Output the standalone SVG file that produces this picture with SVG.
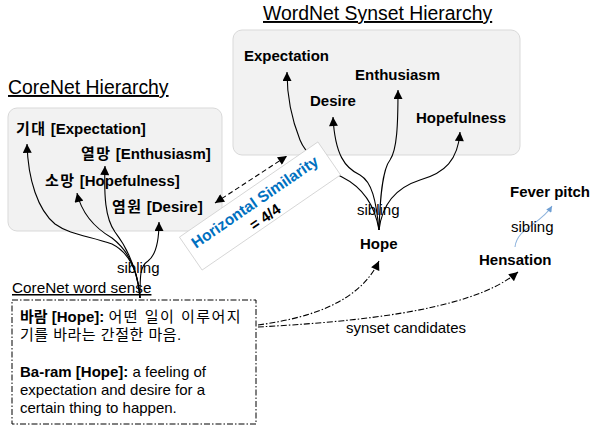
<svg xmlns="http://www.w3.org/2000/svg" width="592" height="428" viewBox="0 0 592 428">
<defs>
<style>
.t{font-family:"Liberation Sans","Noto Sans CJK KR",Arial,sans-serif;fill:#000}
.b{font-weight:bold;font-size:15px}
.r{font-size:15px}
.k{letter-spacing:1.5px}
.title{font-size:19.4px;text-decoration:underline}
.box{fill:#f2f2f2;stroke:#d9d9d9;stroke-width:1}
.c{fill:none;stroke:#000;stroke-width:1.1;marker-end:url(#ah)}
.dd{fill:none;stroke:#000;stroke-width:1.1;stroke-dasharray:6 2 1.5 2;marker-end:url(#ah)}
</style>
<marker id="ah" viewBox="0 0 10 10" refX="10" refY="5" markerUnits="userSpaceOnUse" markerWidth="10" markerHeight="9" orient="auto-start-reverse">
<path d="M0,0 L10,5 L0,10 z" fill="#000"/>
</marker>
<marker id="ahb" viewBox="0 0 10 10" refX="10" refY="5" markerUnits="userSpaceOnUse" markerWidth="7" markerHeight="6" orient="auto">
<path d="M0,0 L10,5 L0,10 z" fill="#6f9fd3"/>
</marker>
</defs>

<g id="corenet-hierarchy">
<text class="t title" x="8" y="94">CoreNet Hierarchy</text>
<rect class="box" x="8" y="108" width="214" height="123" rx="9"/>
<text class="t b" x="16" y="134"><tspan class="k">기대</tspan> [Expectation]</text>
<text class="t b" x="81" y="159"><tspan class="k">열망</tspan> [Enthusiasm]</text>
<text class="t b" x="45" y="186"><tspan class="k">소망</tspan> [Hopefulness]</text>
<text class="t b" x="112" y="212"><tspan class="k">염원</tspan> [Desire]</text>
</g>

<g id="wordnet-hierarchy">
<text class="t title" x="263" y="20">WordNet Synset Hierarchy</text>
<rect class="box" x="233" y="30" width="287" height="125" rx="9"/>
<text class="t b" x="244" y="61">Expectation</text>
<text class="t b" x="355" y="80">Enthusiasm</text>
<text class="t b" x="310" y="106">Desire</text>
<text class="t b" x="416" y="123">Hopefulness</text>
</g>

<g id="hope"><text class="t b" x="360" y="249">Hope</text></g>
<g id="hensation"><text class="t b" x="479" y="265">Hensation</text></g>
<g id="fever-pitch"><text class="t b" x="510" y="197">Fever pitch</text></g>

<g id="word-sense">
<text class="t r" x="12" y="293" style="text-decoration:underline;font-size:15.3px">CoreNet word sense</text>
<rect x="12" y="300" width="244" height="124" fill="#fff" stroke="#000" stroke-width="1" stroke-dasharray="6 2 1.5 2"/>
<text class="t r" x="20" y="322"><tspan font-weight="bold">바람 [Hope]:</tspan> <tspan style="letter-spacing:1.5px">어떤 일이 이루어지</tspan></text>
<text class="t r" x="20" y="340" style="letter-spacing:0.5px">기를 바라는 간절한 마음.</text>
<text class="t r" x="20" y="377"><tspan font-weight="bold">Ba-ram [Hope]:</tspan> a feeling of</text>
<text class="t r" x="20" y="395">expectation and desire for a</text>
<text class="t r" x="20" y="413">certain thing to happen.</text>
</g>

<g id="connectors">
<path class="c" d="M140,298 C138,270 128,252 112,244 C90,236 70,235 55,224 C38,210 28,180 27,144"/>
<path class="c" d="M140,298 C138,265 125,248 112,238 C95,228 82,215 77,193"/>
<path class="c" d="M140,298 C137,265 125,245 115,232 C105,218 104,195 105,166"/>
<path class="c" d="M140,298 C140,275 140,266 148,261 C156,255 159,240 159,222"/>
<path class="c" d="M379,230 C374,200 358,185 342,177 C320,166 306,155 300,140 C292,120 287,100 287,72"/>
<path class="c" d="M379,230 C376,200 372,182 360,175 C345,168 335,155 333,117"/>
<path class="c" d="M379,230 C380,200 382,170 390,160 C397,150 398,125 398,90"/>
<path class="c" d="M379,230 C382,205 395,188 420,180 C445,173 458,160 460,132"/>
<path d="M515,247 C517,228 540,225 552,206" fill="none" stroke="#8fb4dd" stroke-width="1.1" marker-end="url(#ahb)"/>
<path class="dd" d="M258,325 C310,318 360,302 379,261"/>
<path class="dd" d="M258,327 C350,322 470,312 518,272"/>
<path d="M215,203 L287,156" fill="none" stroke="#000" stroke-width="1.1" stroke-dasharray="5 3" marker-start="url(#ah)" marker-end="url(#ah)"/>
<text class="t r" x="117" y="273">sibling</text>
<text class="t r" x="357" y="215">sibling</text>
<text class="t r" x="511" y="232">sibling</text>
<text class="t r" x="346" y="333">synset candidates</text>
</g>

<g id="horizontal-similarity" transform="translate(260,206) rotate(-34.5)">
<rect x="-84" y="-20" width="168" height="40" fill="#fff" stroke="#d0d0d0" stroke-width="0.8"/>
<text class="t b" x="-2" y="-1" text-anchor="middle" style="fill:#0070c0;font-size:15.5px">Horizontal Similarity</text>
<text class="t b" x="-2" y="17" text-anchor="middle">= 4/4</text>
</g>
</svg>
